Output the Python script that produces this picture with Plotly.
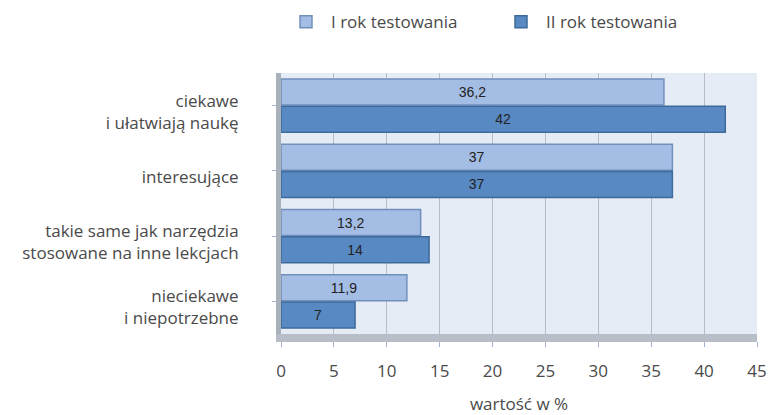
import plotly.graph_objects as go

categories = ["ciekawe<br>i ułatwiają naukę", "interesujące",
              "takie same jak narzędzia<br>stosowane na inne lekcjach",
              "nieciekawe<br>i niepotrzebne"]
series_names = ["I rok testowania", "II rok testowania"]
year1 = [36.2, 37, 13.2, 11.9]
year2 = [42, 37, 14, 7]
x_ticks = [0, 5, 10, 15, 20, 25, 30, 35, 40, 45]

colors = ["#A4BDE4", "#5889C2"]
edges = ["#7090BC", "#3D6A9A"]

def fmt(v):
    return ("%g" % v).replace(".", ",")

FONT = "Open Sans, Roboto, DejaVu Sans"

fig = go.Figure()
for name, vals, c, e in zip(series_names, [year1, year2], colors, edges):
    fig.add_trace(go.Bar(
        y=categories, x=vals, name=name, orientation="h",
        marker=dict(color=c, line=dict(color=e, width=1.5)),
        text=[fmt(v) for v in vals], textposition="inside",
        insidetextanchor="middle",
        textfont=dict(family="Liberation Sans, Arial", size=14, color="#222222"),
    ))

fig.update_layout(
    width=769, height=415,
    margin=dict(l=281, r=12, t=73, b=81, autoexpand=False),
    paper_bgcolor="white", plot_bgcolor="#E6ECF5",
    barmode="group", bargap=0.17, bargroupgap=0.04,
    font=dict(family=FONT, size=17, color="#4A4A4A"),
    legend=dict(orientation="h", x=0.0, xref="paper", y=0.99,
                yref="container", yanchor="top", xanchor="left",
                font=dict(family=FONT, size=17, color="#4A4A4A"),
                itemwidth=40, entrywidth=160, traceorder="normal"),
    showlegend=True,
)
fig.update_xaxes(range=[0, 45], tickvals=x_ticks, showgrid=True,
                 gridcolor="#B8BCC4", gridwidth=1, zeroline=False,
                 ticks="outside", ticklen=5, tickcolor="#9FB3CC",
                 ticklabelstandoff=10, automargin=False,
                 tickfont=dict(family=FONT, size=17, color="#4A4A4A"),
                 title=dict(text="wartość w %", standoff=27,
                            font=dict(family=FONT, size=17, color="#4A4A4A")),
                 showline=True, linecolor="#B7BEC8", linewidth=8)
fig.update_yaxes(autorange="reversed", ticks="outside", ticklen=4,
                 tickcolor="#9FB3CC", ticklabelstandoff=30, ticklabelshift=-6,
                 automargin=False,
                 tickfont=dict(family=FONT, size=17, color="#4A4A4A"),
                 showline=True, linecolor="#A8B0BA", linewidth=5)

fig.write_html("out.html", config={"displayModeBar": False},
               post_script="document.body.style.margin='0';")
